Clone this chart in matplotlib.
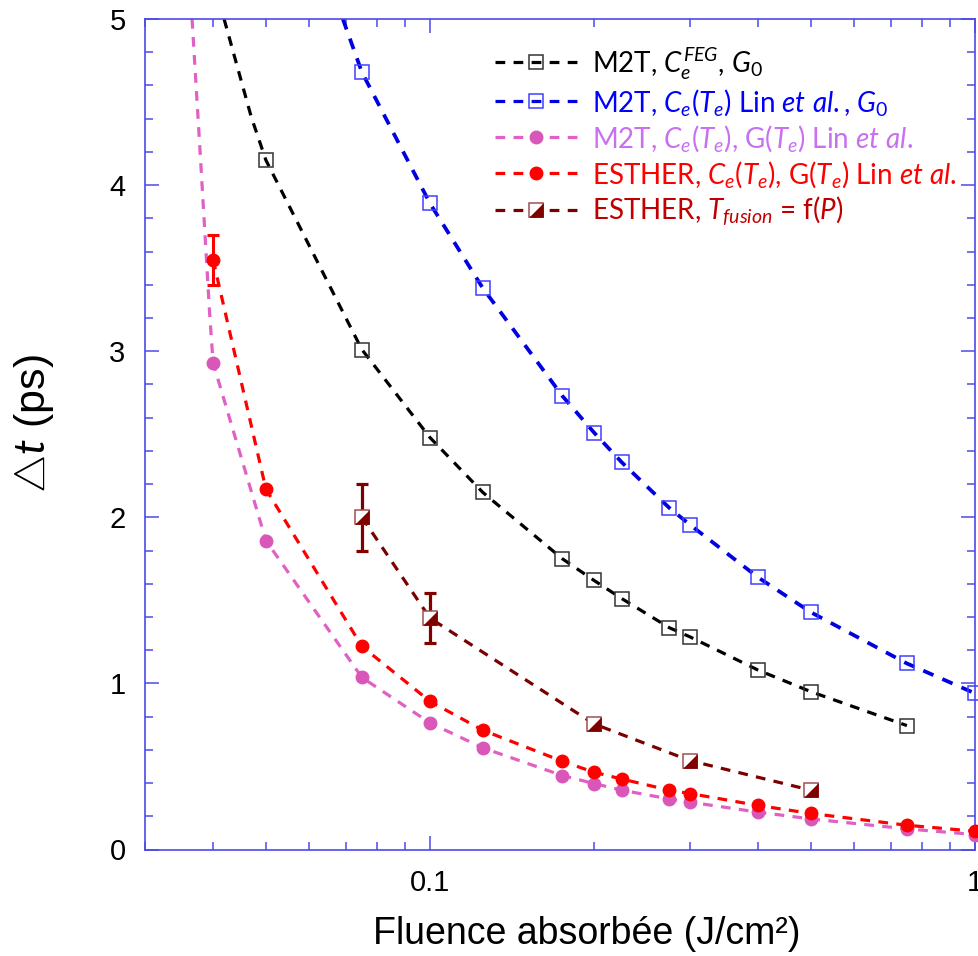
import matplotlib
matplotlib.use("Agg")
import matplotlib.pyplot as plt
from matplotlib.lines import Line2D
from matplotlib.ticker import MultipleLocator, NullFormatter, FixedLocator, LogLocator

plt.rcParams['font.family'] = ['Liberation Sans', 'DejaVu Sans']
plt.rcParams['mathtext.fontset'] = 'custom'
plt.rcParams['mathtext.rm'] = 'Lato'
plt.rcParams['mathtext.it'] = 'Lato:italic'
plt.rcParams['mathtext.bf'] = 'Lato:bold'
plt.rcParams['lines.scale_dashes'] = False

# ---------------- data ----------------
# M2T, Ce^FEG, G0 (black open squares)
F_black = [0.05, 0.075, 0.1, 0.125, 0.175, 0.2, 0.225, 0.275, 0.3, 0.4, 0.5, 0.75]
dt_black = [4.15, 3.01, 2.48, 2.15, 1.75, 1.62, 1.51, 1.335, 1.28, 1.08, 0.95, 0.746]
fit_black_F = [0.0419, 0.047]          # upper part of the fitted curve
fit_black_dt = [5.0, 4.41]

# M2T, Ce(Te) Lin et al., G0 (blue open squares)
F_blue = [0.075, 0.1, 0.125, 0.175, 0.2, 0.225, 0.275, 0.3, 0.4, 0.5, 0.75, 1.0]
dt_blue = [4.68, 3.89, 3.38, 2.73, 2.51, 2.33, 2.056, 1.955, 1.638, 1.428, 1.12, 0.94]
fit_blue_F = [0.0692]
fit_blue_dt = [5.0]

# M2T, Ce(Te), G(Te) Lin et al. (pink dots)
F_pink = [0.04, 0.05, 0.075, 0.1, 0.125, 0.175, 0.2, 0.225, 0.275, 0.3, 0.4, 0.5, 0.75, 1.0]
dt_pink = [2.93, 1.86, 1.036, 0.762, 0.612, 0.445, 0.397, 0.357, 0.304, 0.285, 0.225, 0.184, 0.124, 0.09]
fit_pink_F = [0.0366, 0.0380, 0.0394]
fit_pink_dt = [5.0, 4.115, 3.24]

# ESTHER, Ce(Te), G(Te) Lin et al. (red dots)
F_red = [0.04, 0.05, 0.075, 0.1, 0.125, 0.175, 0.2, 0.225, 0.275, 0.3, 0.4, 0.5, 0.75, 1.0]
dt_red = [3.55, 2.17, 1.223, 0.892, 0.718, 0.531, 0.465, 0.424, 0.357, 0.337, 0.265, 0.217, 0.146, 0.11]
err_red = [0.15, 0, 0, 0, 0, 0, 0, 0, 0, 0, 0, 0, 0, 0]

# ESTHER, T_fusion = f(P) (dark red half-filled squares)
F_brown = [0.075, 0.1, 0.2, 0.3, 0.5]
dt_brown = [2.0, 1.393, 0.756, 0.535, 0.357]
err_brown = [0.2, 0.15, 0, 0, 0]

labels = [r'M2T, $C_e^{FEG}$, $G_{\mathit{0}}$',
          r'M2T, $C_e(T_e)$ Lin $et\ al.$, $G_{\mathit{0}}$',
          r'M2T, $C_e(T_e)$, G($T_e$) Lin $et\ al.$',
          r'ESTHER, $C_e(T_e)$, G($T_e$) Lin $et\ al.$',
          r'ESTHER, $T_{fusion}$ = f($P$)']
label_colors = ['black', '#0000ff', '#c870f0', '#ff0000', '#c00000']

# ---------------- styles ----------------
c_black_line, c_black_mk = '#000000', '#333333'
c_blue_line, c_blue_mk = '#0000e0', '#4040ff'
c_pink_line, c_pink_mk = '#e060c4', '#d957b9'
c_red = '#ff0000'
c_brown_line, c_brown_mk, c_brown_edge = '#7a0000', '#800000', '#a05050'
spine_col = '#4a4ae6'
dash = (7, 6)
tri = [(0.5, 0.5), (0.5, -0.5), (-0.5, -0.5)]

fig = plt.figure(figsize=(9.79, 9.56), dpi=100)
ax = fig.add_axes([145/979, (956-849.5)/956, (975-145)/979, (849.5-19)/956])
ax.set_xscale('log')
ax.set_xlim(0.03, 1.0)
ax.set_ylim(0, 5)

# lines
ax.plot(fit_pink_F + F_pink, fit_pink_dt + dt_pink, color=c_pink_line, lw=2.3, dashes=dash)
ax.plot(F_red, dt_red, color=c_red, lw=2.3, dashes=dash)
ax.plot(F_brown, dt_brown, color=c_brown_line, lw=2.3, dashes=dash)
ax.plot(fit_black_F + F_black, fit_black_dt + dt_black, color=c_black_line, lw=2.3, dashes=dash)
ax.plot(fit_blue_F + F_blue, fit_blue_dt + dt_blue, color=c_blue_line, lw=2.7, dashes=(8, 7))

# markers
ax.plot(F_pink, dt_pink, ls='none', marker='o', ms=9, color=c_pink_mk, mec=c_pink_mk, clip_on=False, zorder=3)
ax.errorbar(F_red, dt_red, yerr=err_red, fmt='o', ms=9, color=c_red, ecolor=c_red,
            elinewidth=2.2, capsize=4, capthick=2.2, clip_on=False, zorder=4)
ax.errorbar(F_brown, dt_brown, yerr=err_brown, fmt='none', ecolor=c_brown_mk,
            elinewidth=2.3, capsize=4.5, capthick=2.3, zorder=4)
ax.plot(F_brown, dt_brown, ls='none', marker='s', ms=9.5, mfc='white', mec=c_brown_edge, mew=1.1, zorder=5)
ax.plot(F_brown, dt_brown, ls='none', marker=tri, ms=9.5, mfc=c_brown_mk, mec=c_brown_mk, mew=0.5, zorder=6)
ax.plot(F_black, dt_black, ls='none', marker='s', ms=9.5, mfc='none', mec=c_black_mk, mew=1.1, zorder=3)
ax.plot(F_blue, dt_blue, ls='none', marker='s', ms=9.5, mfc='none', mec=c_blue_mk, mew=1.1, clip_on=False, zorder=3)

# axes styling
for s in ax.spines.values():
    s.set_color(spine_col)
    s.set_linewidth(1.2)
ax.xaxis.set_major_locator(FixedLocator([0.1, 1.0]))
ax.set_xticklabels(['0.1', '1'])
ax.xaxis.set_minor_locator(LogLocator(base=10, subs=[2, 3, 4, 5, 6, 7, 8, 9]))
ax.xaxis.set_minor_formatter(NullFormatter())
ax.yaxis.set_major_locator(MultipleLocator(1))
ax.yaxis.set_minor_locator(MultipleLocator(0.2))
ax.tick_params(which='both', direction='in', top=True, right=True, color=spine_col, width=1.1,
               labelsize=21, labelcolor='black')
ax.tick_params(which='major', length=10)
ax.tick_params(which='minor', length=5.5)
ax.tick_params(axis='y', pad=14)
ax.tick_params(axis='x', pad=14)

fig.text(587/979, 1 - 944/956, 'Fluence absorbée (J/cm²)', ha='center', va='baseline', fontsize=27)
fig.text(12/979, 1 - 424/956, r'$\bigtriangleup t$ (ps)', ha='left', va='center', rotation=90, fontsize=31)

# legend
h_black = Line2D([], [], color=c_black_line, lw=2.3, dashes=dash, marker='s', ms=9.5, mfc='none', mec=c_black_mk, mew=1.1)
h_blue = Line2D([], [], color=c_blue_line, lw=2.3, dashes=dash, marker='s', ms=9.5, mfc='none', mec=c_blue_mk, mew=1.1)
h_pink = Line2D([], [], color=c_pink_line, lw=2.3, dashes=dash, marker='o', ms=9, mfc=c_pink_mk, mec=c_pink_mk)
h_red = Line2D([], [], color=c_red, lw=2.3, dashes=dash, marker='o', ms=9, mfc=c_red, mec=c_red)
h_brown1 = Line2D([], [], color=c_brown_line, lw=2.3, dashes=dash, marker='s', ms=9.5, mfc='white', mec=c_brown_edge, mew=1.1)
h_brown2 = Line2D([], [], ls='none', marker=tri, ms=9.5, mfc=c_brown_mk, mec=c_brown_mk, mew=0.5)

leg = ax.legend([h_black, h_blue, h_pink, h_red, (h_brown1, h_brown2)], labels,
                loc='upper left', bbox_to_anchor=(495/979, 1 - 45/956), bbox_transform=fig.transFigure,
                frameon=False, prop={'family': 'Lato', 'size': 20}, handlelength=2.95,
                handletextpad=0.55, labelspacing=0.18, numpoints=1, borderpad=0, borderaxespad=0)
for t, c in zip(leg.get_texts(), label_colors):
    t.set_color(c)

fig.savefig('out.png', dpi=100)
